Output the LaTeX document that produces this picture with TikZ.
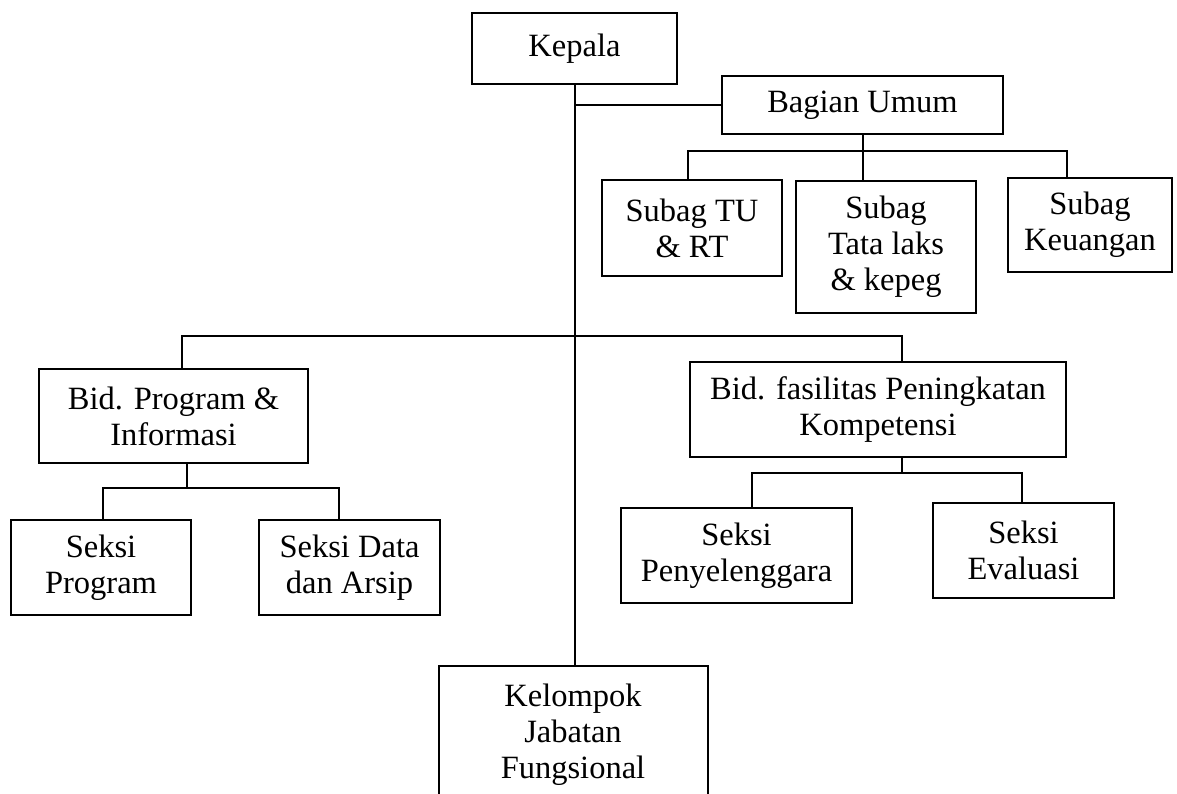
\documentclass[tikz,border=0pt]{standalone}
\usepackage{fontspec}
\setmainfont{Liberation Serif}
\begin{document}
\begin{tikzpicture}[x=1pt,y=-1pt,line width=2pt,
  unit/.style={draw,line width=2pt,align=center,inner sep=0pt,font=\fontsize{32.5}{36}\selectfont}]
\useasboundingbox (0,0) rectangle (1177,794);
\clip (0,0) rectangle (1177,794);
\node [unit,minimum width=205,minimum height=71] (kepala) at (574.5,48.5) {Kepala};
\node [unit,minimum width=281,minimum height=58] (umum) at (862.5,105) {Bagian Umum};
\node [unit,minimum width=180,minimum height=96] (tu) at (692,228) {Subag TU\\\& RT};
\node [unit,minimum width=180,minimum height=132] (tata) at (886,247) {Subag\\Tata laks\\\& kepeg};
\node [unit,minimum width=164,minimum height=94] (uang) at (1090,225) {Subag\\Keuangan};
\node [unit,minimum width=269,minimum height=94] (prog) at (173.5,416) {Bid. Program \&\\Informasi};
\node [unit,minimum width=376,minimum height=95] (fas) at (878,409.5) {Bid. fasilitas Peningkatan\\Kompetensi};
\node [unit,minimum width=180,minimum height=95] (sprog) at (101,567.5) {Seksi\\Program};
\node [unit,minimum width=181,minimum height=95] (sdata) at (349.5,567.5) {Seksi Data\\dan Arsip};
\node [unit,minimum width=231,minimum height=95] (slngg) at (736.5,555.5) {Seksi\\Penyelenggara};
\node [unit,minimum width=181,minimum height=95] (seval) at (1023.5,550.5) {Seksi\\Evaluasi};
\node [unit,minimum width=269,minimum height=138] (jafung) at (573,735) {Kelompok\\Jabatan\\Fungsional};
\coordinate (b1l) at (688,151);
\coordinate (b1r) at (1067,151);
\coordinate (b2l) at (182,336);
\coordinate (b2r) at (902,336);
\coordinate (b3l) at (752,473);
\coordinate (b3r) at (1022,473);
\coordinate (b4l) at (103,488);
\coordinate (b4m) at (187,488);
\coordinate (b4r) at (339,488);
\draw (kepala.south) -- (kepala.south |- jafung.north);
\draw (kepala.south |- umum.west) -- (umum.west);
\draw (umum.south) -- (umum.south |- tata.north);
\draw (b1l |- tu.north) -- (b1l) -- (b1r) -- (b1r |- uang.north);
\draw (b2l |- prog.north) -- (b2l) -- (b2r) -- (b2r |- fas.north);
\draw (b2r |- fas.south) -- (b2r |- b3l);
\draw (b3l |- slngg.north) -- (b3l) -- (b3r) -- (b3r |- seval.north);
\draw (b4m |- prog.south) -- (b4m);
\draw (b4l |- sprog.north) -- (b4l) -- (b4r) -- (b4r |- sdata.north);
\end{tikzpicture}
\end{document}
